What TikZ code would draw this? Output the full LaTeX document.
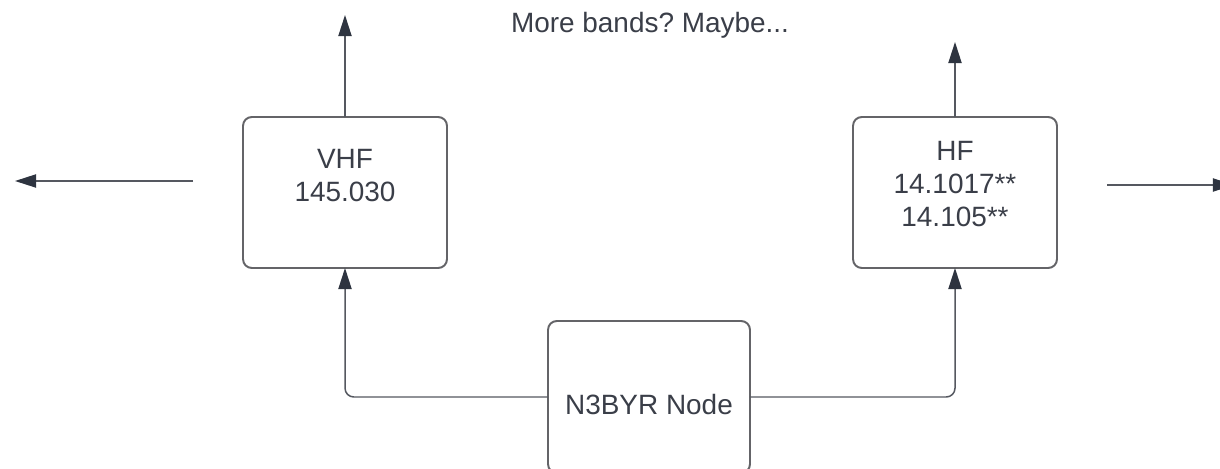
\documentclass[tikz,border=0pt]{standalone}
\usepackage{fontspec}
\setmainfont{Liberation Sans}
\usepackage{xcolor}
\usepackage{tikz}
\usetikzlibrary{arrows.meta}
\definecolor{boxline}{RGB}{100,100,104}
\definecolor{wire}{RGB}{85,88,96}
\definecolor{tipfill}{RGB}{46,52,64}
\definecolor{ink}{RGB}{58,62,72}
\frenchspacing

\begin{document}
\begin{tikzpicture}[x=0.02cm, y=-0.02cm,
  bandbox/.style={draw=boxline, line width=1.1pt, rounded corners=5pt, inner sep=0pt, outer sep=0pt, minimum width=4.08cm, minimum height=3.02cm},
  nodebox/.style={bandbox, minimum width=4.04cm, minimum height=3.04cm},
  boxtext/.style={font=\fontsize{15.9}{18.8}\selectfont, text=ink, align=center, inner sep=0pt},
  feed/.style={draw=wire, line width=0.85pt, rounded corners=5pt, -{Triangle[length=12pt, width=7.5pt, color=tipfill]}}]
\useasboundingbox (0,0) rectangle (1220,469);
\node[boxtext, anchor=base] (Maybe) at (650,33) {More bands? Maybe...};
\node[bandbox] (VHF) at (345,192.5) {};
\node[boxtext] (VHFText) at (345,175.5) {VHF\\145.030};
\node[bandbox] (HF) at (955,192.5) {};
\node[boxtext] (HFText) at (955,184) {HF\\14.1017**\\14.105**};
\node[nodebox] (Home) at (649,397) {};
\node[boxtext, anchor=base] (HomeText) at (649,415) {N3BYR Node};
\coordinate (VHFUp) at (345,15);
\coordinate (HFUp) at (955,42);
\coordinate (WestFrom) at (193,181);  \coordinate (WestTo) at (15,181);
\coordinate (EastFrom) at (1107,185); \coordinate (EastTo) at (1234,185);
\draw[feed] (VHF.north) -- (VHFUp);
\draw[feed] (HF.north) -- (HFUp);
\draw[feed] (WestFrom) -- (WestTo);
\draw[feed] (EastFrom) -- (EastTo);
\draw[feed] (Home.west) -| (VHF.south);
\draw[feed] (Home.east) -| (HF.south);
\end{tikzpicture}
\end{document}
